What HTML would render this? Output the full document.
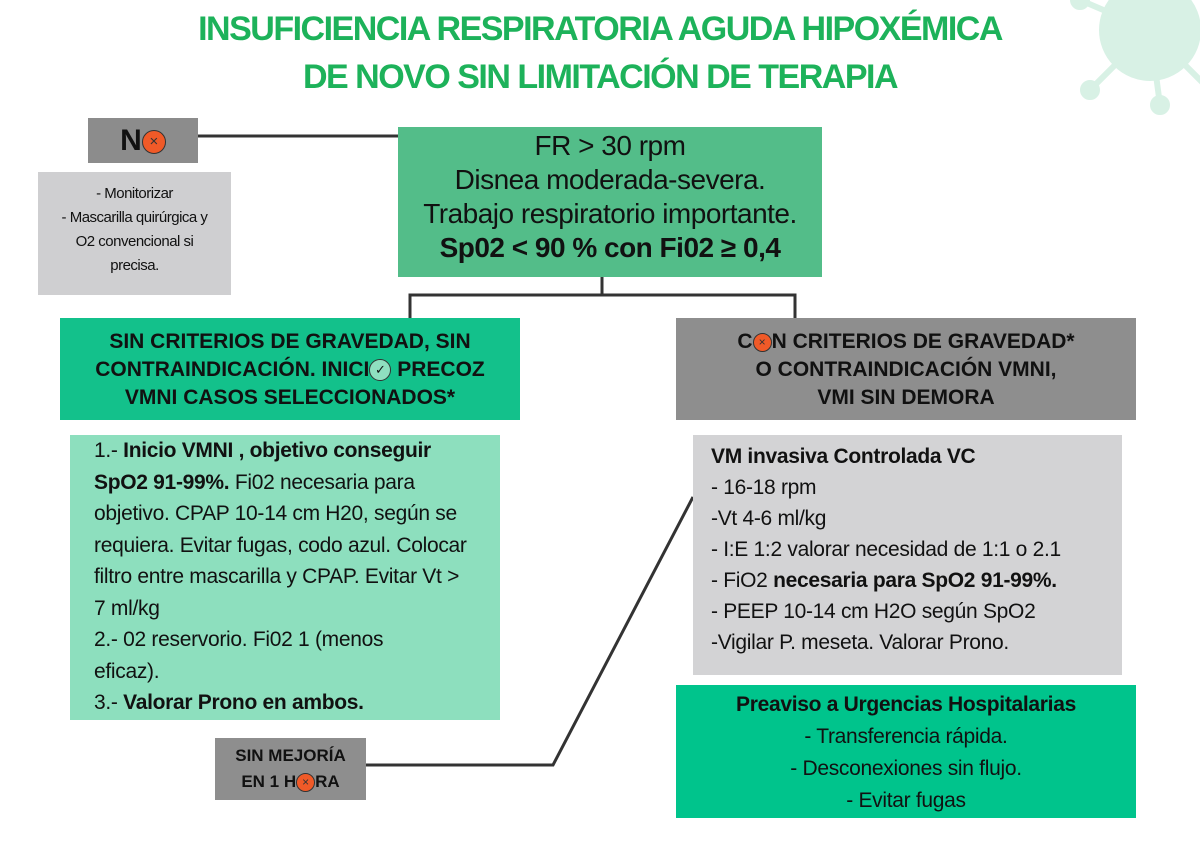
<!DOCTYPE html>
<html><head><meta charset="utf-8"><style>
body{margin:0;width:1200px;height:849px;background:#fff;position:relative;overflow:hidden;font-family:"Liberation Sans",sans-serif;color:#111}
.a{position:absolute;box-sizing:border-box}
.t{position:absolute;left:0;width:1200px;text-align:center;color:#1db25a;font-weight:bold;font-size:34px;letter-spacing:-1.5px}
.c{text-align:center}
.x{display:inline-block;width:22px;height:22px;border-radius:50%;background:#f05a28;border:1px solid #333;vertical-align:middle;color:#333;font-size:15px;line-height:22px;text-align:center;font-weight:normal}
.k{display:inline-block;width:20px;height:20px;border-radius:50%;background:#8fdfc0;border:1px solid #333;vertical-align:middle;font-size:13px;line-height:20px;text-align:center;font-weight:normal}
.nw{white-space:nowrap}
</style></head><body>
<svg class="a" style="left:1060px;top:-20px" width="160" height="140"><g fill="#d8f1e5" stroke="#d8f1e5" stroke-width="6"><circle cx="90" cy="50" r="48"/><line x1="90" y1="50" x2="20" y2="20"/><line x1="90" y1="50" x2="30" y2="110"/><line x1="90" y1="50" x2="100" y2="125"/><line x1="90" y1="50" x2="150" y2="110"/><circle cx="20" cy="20" r="7"/><circle cx="30" cy="110" r="7"/><circle cx="100" cy="125" r="7"/><circle cx="150" cy="110" r="7"/></g></svg>
<div class="t" style="top:10px">INSUFICIENCIA RESPIRATORIA AGUDA HIPOXÉMICA</div>
<div class="t" style="top:58px">DE NOVO SIN LIMITACIÓN DE TERAPIA</div>
<svg class="a" style="left:0;top:0" width="1200" height="849"><g stroke="#333" stroke-width="3" fill="none">
<line x1="198" y1="136" x2="398" y2="136"/>
<polyline points="602,277 602,295 410,295 410,318"/>
<polyline points="602,295 795,295 795,318"/>
<polyline points="366,765 553,765 693,497"/></g></svg>
<div class="a c" style="left:88px;top:118px;width:110px;height:45px;background:#8c8c8c;font-weight:bold;font-size:30px;line-height:45px">N<span class="x">×</span></div>
<div class="a c" style="left:38px;top:172px;width:193px;height:123px;background:#cfcfd1;font-size:15px;line-height:24px;padding-top:10px;letter-spacing:-0.5px">- Monitorizar<br>- Mascarilla quirúrgica y<br>O2 convencional si<br>precisa.</div>
<div class="a c" style="left:398px;top:127px;width:424px;height:150px;background:#53bd89;font-size:28px;line-height:34px;padding-top:2px;letter-spacing:-0.5px">FR &gt; 30 rpm<br>Disnea moderada-severa.<br>Trabajo respiratorio importante.<br><b>Sp02 &lt; 90 % con Fi02 ≥ 0,4</b></div>
<div class="a c" style="left:60px;top:318px;width:460px;height:102px;background:#13c18b;font-weight:bold;font-size:21px;line-height:28px;padding-top:10px">SIN CRITERIOS DE GRAVEDAD, SIN<br>CONTRAINDICACIÓN. INICI<span class="k">✓</span> PRECOZ<br>VMNI CASOS SELECCIONADOS*</div>
<div class="a c" style="left:676px;top:318px;width:460px;height:102px;background:#8e8e8e;font-weight:bold;font-size:21px;line-height:28px;padding-top:10px">C<span class="x" style="width:17px;height:17px;line-height:17px;font-size:12px">×</span>N CRITERIOS DE GRAVEDAD*<br>O CONTRAINDICACIÓN VMNI,<br>VMI SIN DEMORA</div>
<div class="a nw" style="left:70px;top:435px;width:430px;height:285px;background:#8ddfbe;font-size:21px;line-height:31.5px;padding:0 0 0 24px;letter-spacing:-0.3px">1.- <b>Inicio VMNI , objetivo conseguir</b><br><b>SpO2 91-99%.</b> Fi02 necesaria para<br>objetivo. CPAP 10-14 cm H20, según se<br>requiera. Evitar fugas, codo azul. Colocar<br>filtro entre mascarilla y CPAP. Evitar Vt &gt;<br>7 ml/kg<br>2.- 02 reservorio. Fi02 1 (menos<br>eficaz).<br>3.- <b>Valorar Prono en ambos.</b></div>
<div class="a nw" style="left:693px;top:435px;width:429px;height:240px;background:#d3d3d5;font-size:21px;line-height:31px;padding:6px 0 0 18px;letter-spacing:-0.3px"><b>VM invasiva Controlada VC</b><br>- 16-18 rpm<br>-Vt 4-6 ml/kg<br>- I:E 1:2 valorar necesidad de 1:1 o 2.1<br>- FiO2 <b>necesaria para SpO2 91-99%.</b><br>- PEEP 10-14 cm H2O según SpO2<br>-Vigilar P. meseta. Valorar Prono.</div>
<div class="a c" style="left:676px;top:685px;width:460px;height:133px;background:#00c48c;font-size:21px;line-height:32px;padding-top:4px;letter-spacing:-0.3px"><b>Preaviso a Urgencias Hospitalarias</b><br>- Transferencia rápida.<br>- Desconexiones sin flujo.<br>- Evitar fugas</div>
<div class="a c" style="left:215px;top:738px;width:151px;height:62px;background:#8e8e8e;font-weight:bold;font-size:17px;line-height:26px;padding-top:5px">SIN MEJORÍA<br>EN 1 H<span class="x" style="width:17px;height:17px;line-height:17px;font-size:12px">×</span>RA</div>
</body></html>
